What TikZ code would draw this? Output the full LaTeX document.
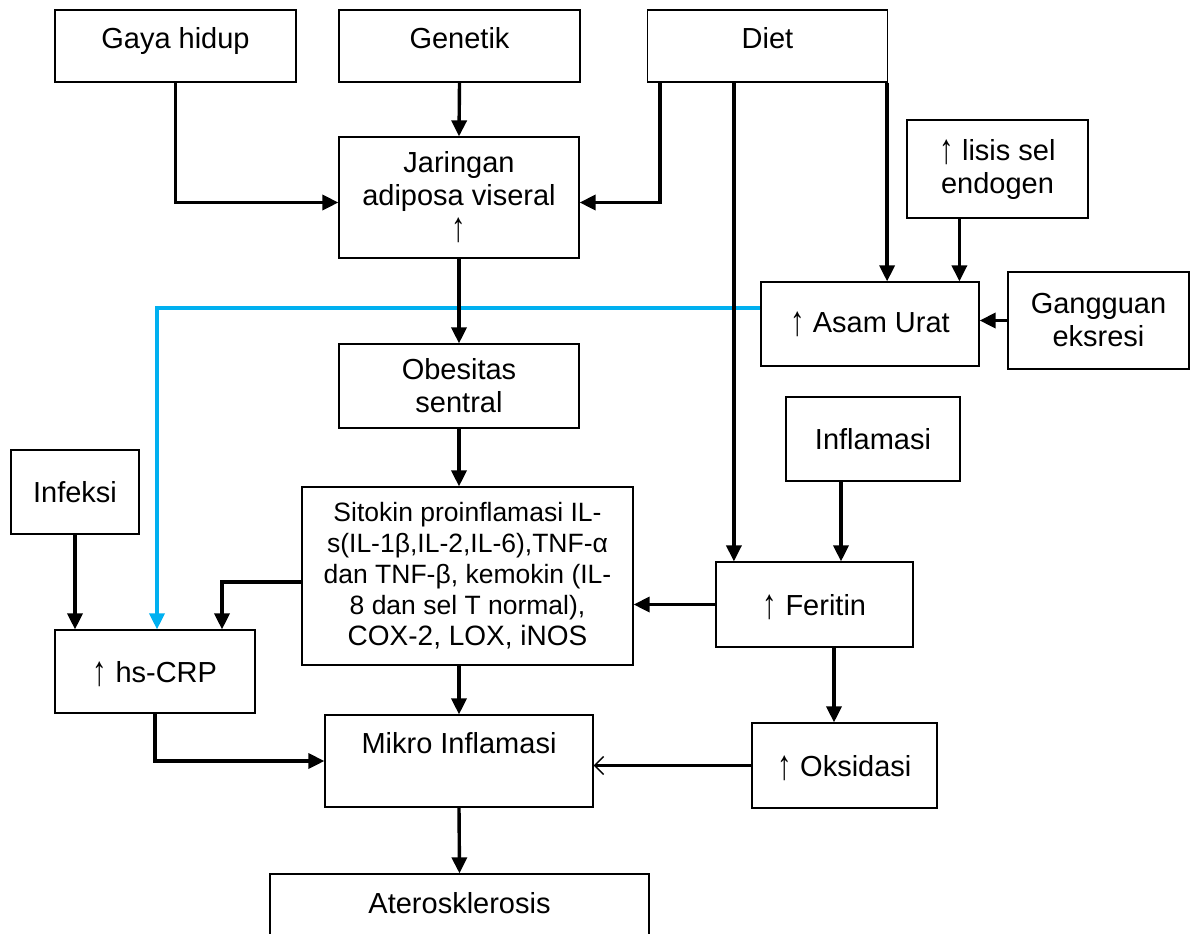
\documentclass[tikz,border=0pt]{standalone}
\usepackage{fontspec}
\usepackage{graphicx}
\setmainfont{Liberation Sans}
\usetikzlibrary{arrows.meta}
\definecolor{skyblue}{RGB}{0,176,240}
\newcommand{\up}{\raisebox{-1.5pt}{\scalebox{1}[1.45]{↑}}}
\tikzset{->/.style = {line width = 1.7pt, -{Triangle[length=8pt, width=7.5pt]}},
         barb/.style = {line width = 1.7pt, -{Straight Barb[length=4.5pt, width=9pt, line width=0.7pt]}},
         box/.style = {draw, line width = 0.6pt, inner sep = 2pt, align = center,
                       font = \fontsize{14.5}{16.5}\selectfont},
         lift/.style = {text height = 10.5pt, text depth = #1},
         lift/.default = 0pt}

\begin{document}
\begin{tikzpicture}[x = 0.5pt, y = -0.5pt]
    \useasboundingbox (0,0) rectangle (1192,933);

    \node[box, lift = 8pt, minimum width = 120.5pt, minimum height = 36pt] (gaya) at (175.5,46) {Gaya hidup};
    \node[box, lift = 8pt, minimum width = 120.5pt, minimum height = 36pt] (genetik) at (459.5,46) {Genetik};
    \node[box, lift = 8pt, minimum width = 120pt, minimum height = 36pt] (diet) at (767.5,46) {Diet};
    \node[box, minimum width = 120pt, minimum height = 60.5pt] (jaringan) at (459,197.5) {Jaringan\\adiposa viseral\\\up};
    \node[box, minimum width = 90.5pt, minimum height = 49pt] (lisis) at (997.5,169) {\up{} lisis sel\\endogen};
    \node[box, lift = 2pt, minimum width = 109pt, minimum height = 42pt] (asam) at (870,324) {\up{} Asam Urat};
    \node[box, minimum width = 90.5pt, minimum height = 48.5pt] (gangguan) at (1098.5,320.5) {Gangguan\\eksresi};
    \node[box, minimum width = 120pt, minimum height = 42pt] (obesitas) at (459,386) {Obesitas\\sentral};
    \node[box, minimum width = 165.5pt, minimum height = 89pt, font = \fontsize{13.25}{15.5}\selectfont] (sitokin) at (467.5,576)
        {Sitokin proinflamasi IL-\\s(IL-1β,IL-2,IL-6),TNF-α\\dan TNF-β, kemokin (IL-\\8 dan sel T normal),\\\fontsize{14}{15.5}\selectfont COX-2, LOX, iNOS};
    \node[box, lift, minimum width = 64pt, minimum height = 42pt] (infeksi) at (75,492) {Infeksi};
    \node[box, lift, minimum width = 100pt, minimum height = 41.5pt] (hscrp) at (155,671.5) {\up{} hs-CRP};
    \node[box, lift, minimum width = 87pt, minimum height = 42pt] (inflamasi) at (873,439) {Inflamasi};
    \node[box, lift, minimum width = 98.5pt, minimum height = 42.5pt] (feritin) at (814.5,604.5) {\up{} Feritin};
    \node[box, lift, minimum width = 92.5pt, minimum height = 42.5pt] (oksidasi) at (844.5,765.5) {\up{} Oksidasi};
    \node[box, lift = 17.6pt, minimum width = 134pt, minimum height = 46pt] (mikro) at (459,761) {Mikro Inflamasi};
    \node[box, lift = 17.6pt, minimum width = 189.5pt, minimum height = 46.5pt] (ateros) at (459.5,920.5) {Aterosklerosis};

    \coordinate (dietL) at ([xshift = 6.5pt]diet.south west);
    \coordinate (dietM) at ([xshift = 43.5pt]diet.south west);
    \coordinate (dietR) at ([xshift = -0.5pt]diet.south east);
    \coordinate (lisisOut) at ([xshift = 26.5pt]lisis.south west);
    \coordinate (inflOut) at ([xshift = -16pt]inflamasi.south);
    \coordinate (ferOut) at ([xshift = 9.75pt]feritin.south);

    \draw[->, skyblue] ([yshift = 8pt]asam.west) -| ([xshift = 1pt]hscrp.north);

    \draw[->] (gaya.south) |- ([yshift = -2.5pt]jaringan.west);
    \draw[->] (genetik.south) -- (jaringan.north);
    \draw[->] (dietL) |- ([yshift = -2.5pt]jaringan.east);
    \draw[->] (dietM) -- (dietM |- feritin.north);
    \draw[->] (dietR) -- (dietR |- asam.north);
    \draw[->] (lisisOut) -- (lisisOut |- asam.north);
    \draw[->] (gangguan.west) -- (gangguan.west -| asam.east);
    \draw[->] (jaringan.south) -- (obesitas.north);
    \draw[->] (obesitas.south) -- (obesitas.south |- sitokin.north);
    \draw[->] (infeksi.south) -- (infeksi.south |- hscrp.north);
    \draw[->] ([yshift = -3pt]sitokin.west) -| ([xshift = 33.5pt]hscrp.north);
    \draw[->] (hscrp.south) |- (mikro.west);
    \draw[->] (mikro.north |- sitokin.south) -- (mikro.north);
    \draw[->] (inflOut) -- (inflOut |- feritin.north);
    \draw[->] (feritin.west) -- (feritin.west -| sitokin.east);
    \draw[->] (ferOut) -- (ferOut |- oksidasi.north);
    \draw[barb] (oksidasi.west) -- (oksidasi.west -| mikro.east);
    \draw[->] (mikro.south) -- (ateros.north);
\end{tikzpicture}
\end{document}
